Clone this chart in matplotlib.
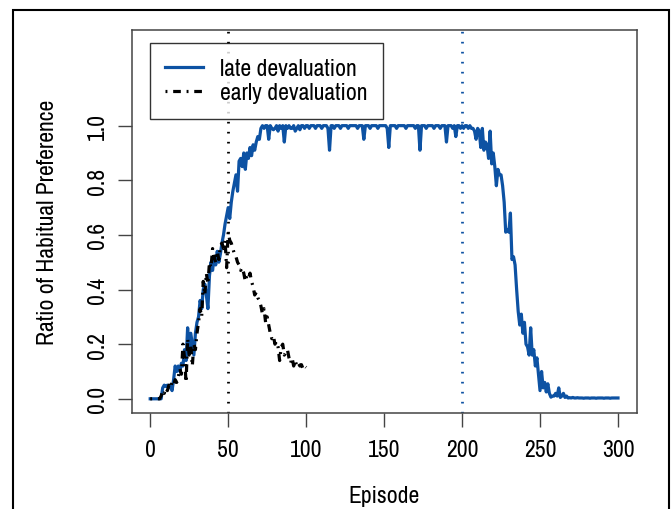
import numpy as np
import matplotlib
matplotlib.use("Agg")
import matplotlib.pyplot as plt
from matplotlib.patches import Rectangle

plt.rcParams['font.family'] = ['Archivo Narrow', 'Liberation Sans', 'DejaVu Sans']

# late devaluation, one value per episode 0..300
late = [
    0, 0, 0, 0, 0, 0, 0, 0, 0.04, 0.05,                                # 0-9
    0.045, 0.05, 0.04, 0.05, 0.03, 0.07, 0.12, 0.10, 0.12, 0.10,       # 10-19
    0.13, 0.12, 0.18, 0.14, 0.26, 0.17, 0.24, 0.20, 0.16, 0.24,        # 20-29
    0.28, 0.30, 0.36, 0.33, 0.40, 0.42, 0.38, 0.33, 0.45, 0.50,        # 30-39
    0.47, 0.52, 0.49, 0.54, 0.50, 0.53, 0.57, 0.60, 0.64, 0.67,        # 40-49
    0.70, 0.66, 0.72, 0.76, 0.79, 0.82, 0.76, 0.87, 0.88, 0.85,        # 50-59
    0.90, 0.84, 0.90, 0.88, 0.92, 0.89, 0.93, 0.91, 0.94, 0.96,        # 60-69
    0.95, 0.99, 1.0, 0.99, 1.0, 1.0, 0.95, 1.0, 0.99, 0.985,           # 70-79
    0.99, 1.0, 0.98, 1.0, 0.99, 1.0, 0.94, 1.0, 0.99, 1.0,             # 80-89
    0.99, 0.99, 1.0, 0.98, 0.99, 1.0, 0.985, 1.0, 1.0, 0.99,           # 90-99
    1.0, 1.0, 0.99, 1.0, 1.0, 1.0, 0.99, 1.0, 1.0, 1.0,                # 100-109
    0.99, 1.0, 1.0, 1.0, 0.99, 0.91, 1.0, 1.0, 0.99, 1.0,              # 110-119
    1.0, 1.0, 0.99, 1.0, 1.0, 1.0, 1.0, 0.99, 1.0, 1.0,                # 120-129
    1.0, 1.0, 1.0, 0.99, 1.0, 1.0, 1.0, 0.95, 1.0, 1.0,                # 130-139
    1.0, 0.99, 1.0, 1.0, 1.0, 1.0, 0.99, 1.0, 1.0, 1.0,                # 140-149
    1.0, 1.0, 0.99, 0.92, 1.0, 1.0, 1.0, 1.0, 0.99, 1.0,               # 150-159
    1.0, 1.0, 1.0, 1.0, 0.99, 1.0, 1.0, 1.0, 1.0, 1.0,                 # 160-169
    0.99, 1.0, 1.0, 0.91, 1.0, 1.0, 1.0, 0.99, 1.0, 1.0,               # 170-179
    1.0, 1.0, 0.99, 1.0, 1.0, 1.0, 0.99, 1.0, 1.0, 1.0,                # 180-189
    0.94, 1.0, 1.0, 1.0, 0.99, 1.0, 0.96, 1.0, 1.0, 0.99,              # 190-199
    1.0, 0.99, 1.0, 1.0, 0.99, 1.0, 0.99, 0.99, 0.98, 0.95,            # 200-209
    0.99, 0.98, 0.92, 0.99, 0.91, 0.94, 0.93, 0.88, 0.98, 0.86,        # 210-219
    0.90, 0.85, 0.78, 0.84, 0.82, 0.82, 0.78, 0.72, 0.61, 0.62,        # 220-229
    0.61, 0.68, 0.51, 0.52, 0.49, 0.40, 0.32, 0.27, 0.31, 0.24,        # 230-239
    0.28, 0.20, 0.19, 0.16, 0.26, 0.16, 0.18, 0.12, 0.15, 0.09,        # 240-249
    0.03, 0.10, 0.04, 0.06, 0.025, 0.055, 0.02, 0.006, 0.01, 0.01,     # 250-259
    0.02, 0.01, 0.04, 0.005, 0.01, 0.02, 0.005, 0.01, 0.003, 0.004,    # 260-269
    0.003, 0.005, 0.003, 0.003, 0.004, 0.003, 0.003, 0.003, 0.002, 0.003,  # 270-279
    0.003, 0.003, 0.002, 0.003, 0.003, 0.003, 0.002, 0.003, 0.003, 0.003,  # 280-289
    0.003, 0.002, 0.003, 0.003, 0.003, 0.002, 0.003, 0.003, 0.003, 0.003,  # 290-299
    0.003,                                                             # 300
]

# early devaluation, episodes 0..100
early = [
    0, 0, 0, 0, 0, 0, 0, 0.01, 0.03, 0.02,                             # 0-9
    0.04, 0.03, 0.05, 0.04, 0.06, 0.05, 0.07, 0.06, 0.08, 0.11,        # 10-19
    0.09, 0.20, 0.15, 0.06, 0.22, 0.16, 0.20, 0.12, 0.20, 0.18,        # 20-29
    0.24, 0.28, 0.33, 0.30, 0.43, 0.38, 0.46, 0.42, 0.50, 0.48,        # 30-39
    0.55, 0.52, 0.50, 0.54, 0.51, 0.56, 0.57, 0.55, 0.58, 0.48,        # 40-49
    0.61, 0.58, 0.57, 0.55, 0.53, 0.52, 0.50, 0.49, 0.47, 0.48,        # 50-59
    0.46, 0.43, 0.45, 0.44, 0.46, 0.43, 0.41, 0.38, 0.39, 0.37,        # 60-69
    0.36, 0.34, 0.31, 0.33, 0.28, 0.30, 0.27, 0.24, 0.22, 0.23,        # 70-79
    0.20, 0.21, 0.19, 0.14, 0.19, 0.20, 0.16, 0.17, 0.18, 0.15,        # 80-89
    0.13, 0.15, 0.12, 0.14, 0.12, 0.13, 0.12, 0.125, 0.11, 0.12,       # 90-99
    0.115,                                                             # 100
]

late_ep = np.arange(len(late))
early_ep = np.arange(len(early))
x_ticks = [0, 50, 100, 150, 200, 250, 300]
y_ticks = [0.0, 0.2, 0.4, 0.6, 0.8, 1.0]
marks = [50, 200]

blue = '#0d52a3'

fig = plt.figure(figsize=(6.71, 5.10), dpi=100)

# pick a font size so that "late devaluation" is about 138 px wide, like the reference
probe = fig.text(0, 0, 'late devaluation', fontsize=10)
w10 = probe.get_window_extent(renderer=fig.canvas.get_renderer()).width
probe.remove()
fs = 10 * 138 / w10
fpx = fs * 100 / 72

ax = fig.add_axes([131.5 / 671, 1 - 414 / 510, (636.7 - 131.5) / 671, (414 - 30.5) / 510])

ax.plot(late_ep, late, color=blue, lw=2.3, label='late devaluation', zorder=2)
ax.plot(early_ep, early, color='black', lw=2.3, linestyle=(0, (0.6, 1.8, 2.4, 1.8)),
        label='early devaluation', zorder=3)

ax.axvline(marks[0], color='black', lw=2, linestyle=(0, (0.6, 3.0)), zorder=1)
ax.axvline(marks[1], color=blue, lw=2, linestyle=(0, (0.6, 3.0)), zorder=1)

ax.set_xlim(-12, 312)
ax.set_ylim(-0.052, 1.352)
ax.set_xticks(x_ticks)
ax.set_xticklabels([str(t) for t in x_ticks])
ax.set_yticks(y_ticks)
ax.set_yticklabels(['%.1f' % t for t in y_ticks], rotation=90, va='center')

for s in ax.spines.values():
    s.set_color('#444444')
    s.set_linewidth(1.1)
ax.tick_params(axis='both', direction='out', length=10, width=1, color='#444444',
               labelsize=fs)
ax.tick_params(axis='x', pad=9)
ax.tick_params(axis='y', pad=7)

fig.text(0.5 * (131.5 + 636.7) / 671, 1 - 497 / 510, 'Episode', ha='center', va='center',
         fontsize=fs)
fig.text(48 / 671, 1 - 222 / 510, 'Ratio of Habitual Preference', ha='center', va='center',
         rotation=90, fontsize=fs)

leg = ax.legend(loc='upper left', bbox_to_anchor=(0.0366, 0.9648), borderaxespad=0,
                fontsize=fs, frameon=True, fancybox=False, handlelength=38 / fpx,
                handletextpad=17 / fpx, borderpad=0.65, labelspacing=0.12)
leg.get_frame().set_edgecolor('black')
leg.get_frame().set_linewidth(1.0)

# outer frame around the figure
fig.patches.append(Rectangle((12.5 / 671, -0.1), (669 - 12.5) / 671, 1.1 - 10.5 / 510,
                             transform=fig.transFigure, fill=False, edgecolor='black',
                             lw=1.5))

fig.savefig('out.png', dpi=100)
